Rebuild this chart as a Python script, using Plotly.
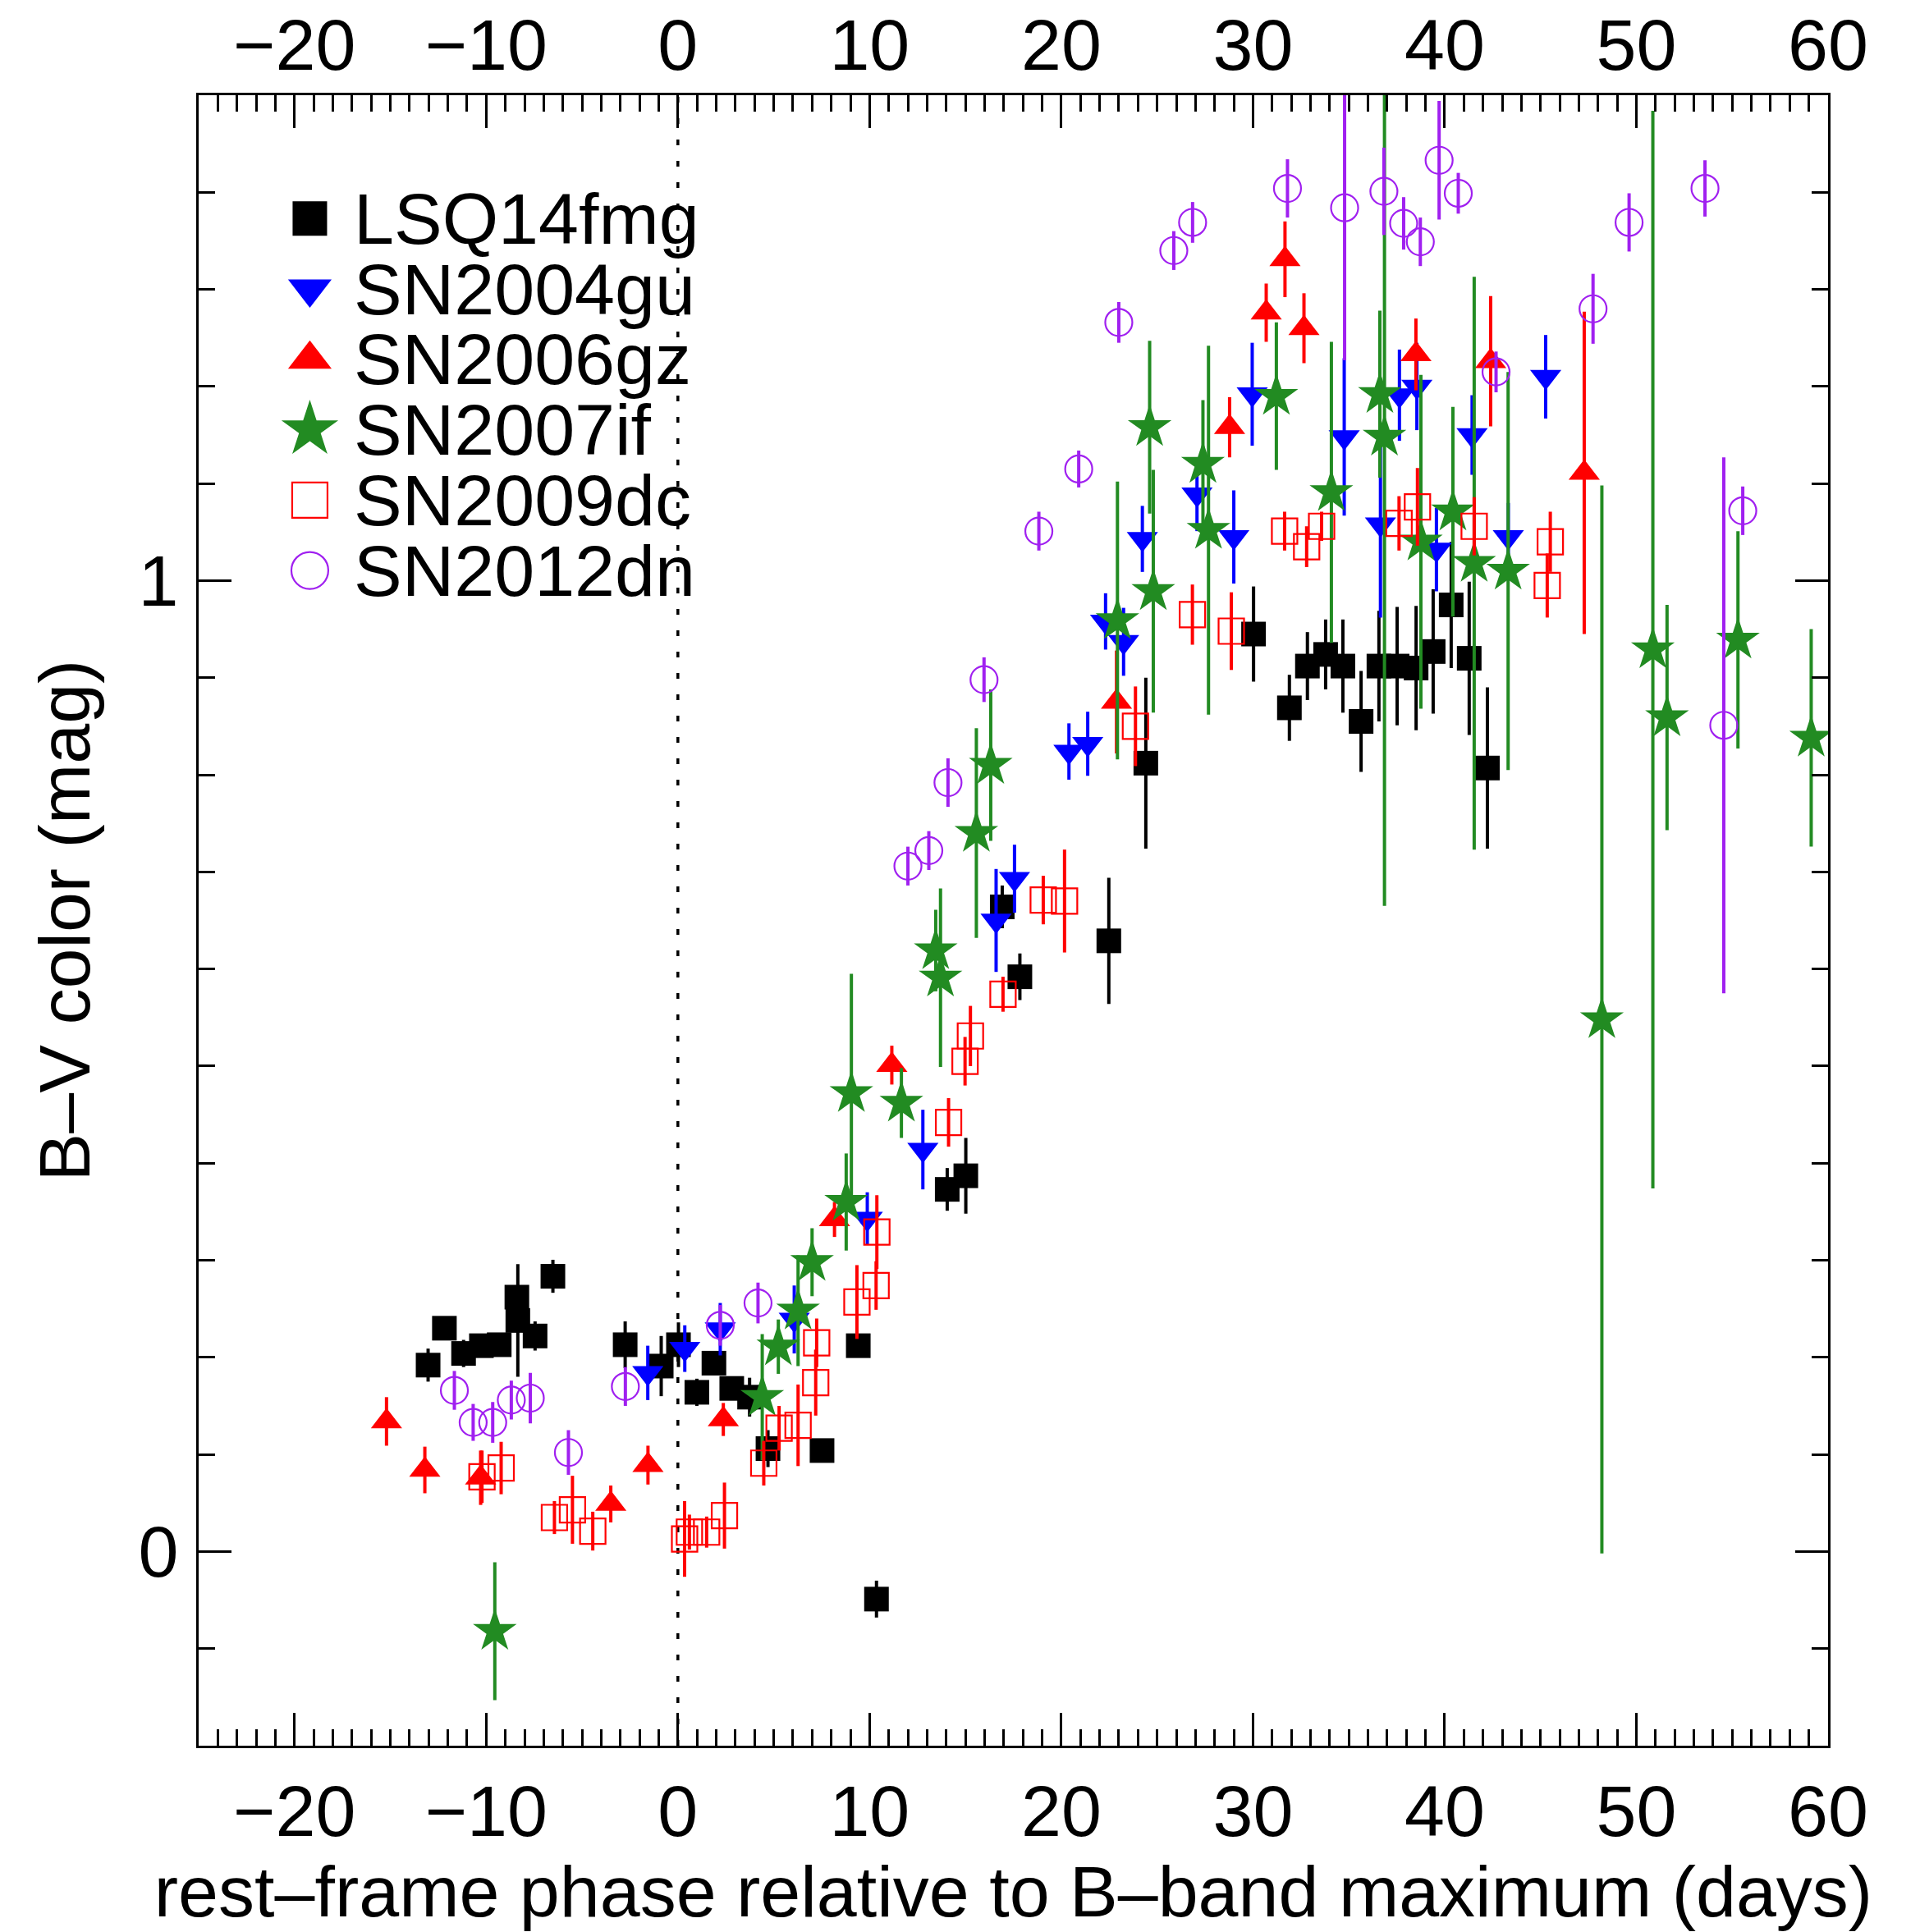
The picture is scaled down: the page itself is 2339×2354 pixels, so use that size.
import plotly.graph_objects as go

# ---------------- data (rest-frame phase [d], B-V [mag], error [mag]) ----------------
lsq_phase = [-13.03, -12.18, -11.18, -10.25, -9.32, -8.4, -8.35, -7.45, -6.52, -2.75, -0.87, 0.03,
             0.99, 1.88, 2.81, 3.74, 4.70, 7.52, 9.41, 10.36, 14.05, 15.02, 16.92, 17.84, 22.48,
             24.41, 30.03, 31.9, 32.84, 33.79, 34.69, 35.64, 36.57, 37.52, 38.51, 39.4, 40.34,
             41.28, 42.23]
lsq_bv = [0.192, 0.230, 0.204, 0.212, 0.213, 0.262, 0.238, 0.222, 0.2835, 0.213, 0.191, 0.213,
          0.164, 0.194, 0.168, 0.159, 0.106, 0.104, 0.212, -0.049, 0.373, 0.387, 0.664, 0.592, 0.629,
          0.812, 0.945, 0.869, 0.912, 0.924, 0.912, 0.855, 0.912, 0.912, 0.910, 0.927, 0.975,
          0.920, 0.807]
lsq_err = [0.017, 0.010, 0.014, 0.010, 0.010, 0.012, 0.058, 0.015, 0.017, 0.024, 0.031, 0.023,
           0.014, 0.012, 0.010, 0.020, 0.019, 0.010, 0.010, 0.019, 0.022, 0.039, 0.022, 0.024, 0.065,
           0.088, 0.049, 0.034, 0.035, 0.036, 0.048, 0.052, 0.057, 0.061, 0.064, 0.064, 0.065,
           0.079, 0.083]

gu_phase = [-1.57, 0.36, 2.21, 6.07, 9.88, 12.78, 16.6, 17.56, 20.4, 21.38, 22.31, 23.25, 24.23,
            27.08, 29.0, 29.96, 34.76, 36.65, 37.64, 38.55, 39.57, 41.43, 43.32, 45.27]
gu_bv = [0.184, 0.209, 0.229, 0.239, 0.343, 0.414, 0.650, 0.693, 0.824, 0.832, 0.958, 0.937, 1.043,
         1.089, 1.045, 1.192, 1.148, 1.058, 1.191, 1.200, 1.032, 1.150, 1.045, 1.210]
gu_err = [0.028, 0.024, 0.027, 0.035, 0.027, 0.041, 0.053, 0.035, 0.029, 0.033, 0.029, 0.035, 0.034,
          0.038, 0.048, 0.053, 0.081, 0.096, 0.047, 0.045, 0.043, 0.041, 0.035, 0.043]

gz_phase = [-15.2, -13.2, -10.29, -3.5, -1.56, 2.37, 8.17, 11.16, 22.88, 28.78, 30.69, 31.67,
            32.66, 38.5, 42.4, 47.28]
gz_bv = [0.134, 0.084, 0.076, 0.049, 0.089, 0.136, 0.342, 0.501, 0.875, 1.158, 1.276, 1.331,
         1.260, 1.233, 1.226, 1.111]
gz_err = [0.025, 0.024, 0.028, 0.019, 0.020, 0.017, 0.018, 0.020, 0.053, 0.031, 0.030, 0.039,
          0.036, 0.037, 0.067, 0.166]

if_phase = [-9.55, 4.40, 5.24, 6.27, 7.00, 8.78, 9.05, 11.66, 13.45, 13.70, 15.57, 16.32, 22.93,
            24.61, 24.80, 27.39, 27.68, 31.22, 34.09, 36.62, 36.86, 38.76, 40.43, 41.54, 43.31,
            48.20, 50.86, 51.60, 55.30, 59.12]
if_bv = [-0.082, 0.159, 0.211, 0.248, 0.298, 0.360, 0.472, 0.462, 0.619, 0.591, 0.740, 0.810, 0.959,
         1.158, 0.989, 1.120, 1.052, 1.190, 1.091, 1.192, 1.148, 1.040, 1.071, 1.018, 1.010,
         0.548, 0.929, 0.859, 0.939, 0.838]
if_err = [0.071, 0.065, 0.028, 0.057, 0.035, 0.050, 0.123, 0.036, 0.042, 0.092, 0.108, 0.078, 0.143,
          0.089, 0.125, 0.066, 0.190, 0.076, 0.155, 0.086, 0.483, 0.172, 0.108, 0.295, 0.205,
          0.550, 0.555, 0.116, 0.112, 0.112]

dc_phase = [-10.22, -9.22, -6.44, -5.50, -4.44, 0.35, 0.60, 1.50, 2.43, 4.48, 5.28, 6.27, 7.19,
            7.24, 9.34, 10.34, 10.38, 14.12, 14.98, 15.26, 16.96, 19.06, 20.17, 23.87, 26.84,
            28.87, 31.65, 32.80, 33.58, 37.62, 38.58, 41.54, 45.35, 45.51]
dc_bv = [0.077, 0.086, 0.035, 0.043, 0.021, 0.013, 0.020, 0.020, 0.037, 0.091, 0.127, 0.130, 0.174,
         0.215, 0.257, 0.274, 0.329, 0.442, 0.505, 0.531, 0.574, 0.671, 0.670, 0.850, 0.965,
         0.948, 1.051, 1.035, 1.056, 1.059, 1.076, 1.056, 0.995, 1.040]
dc_err = [0.027, 0.027, 0.017, 0.035, 0.020, 0.039, 0.018, 0.016, 0.034, 0.023, 0.023, 0.042, 0.034,
          0.025, 0.038, 0.025, 0.038, 0.025, 0.025, 0.031, 0.018, 0.025, 0.053, 0.041, 0.031,
          0.040, 0.020, 0.021, 0.015, 0.028, 0.040, 0.030, 0.033, 0.031]

dn_phase = [-11.66, -10.68, -9.66, -8.69, -7.70, -5.71, -2.74, 2.21, 4.18, 12.0, 13.09, 14.09,
            15.97, 18.83, 20.91, 23.0, 25.87, 26.85, 31.8, 34.78, 36.83, 37.86, 38.73, 39.71,
            40.71, 42.68, 47.74, 49.62, 53.58, 54.56, 55.55]
dn_bv = [0.166, 0.133, 0.133, 0.156, 0.158, 0.102, 0.170, 0.233, 0.256, 0.706, 0.722, 0.792,
         0.898, 1.051, 1.115, 1.266, 1.340, 1.369, 1.404, 1.384, 1.401, 1.368, 1.349, 1.433,
         1.399, 1.215, 1.280, 1.369, 1.404, 0.851, 1.072]
dn_err = [0.020, 0.019, 0.021, 0.020, 0.026, 0.023, 0.020, 0.021, 0.021, 0.020, 0.020, 0.025,
          0.023, 0.020, 0.019, 0.021, 0.020, 0.021, 0.030, 0.157, 0.045, 0.027, 0.025, 0.061,
          0.021, 0.021, 0.036, 0.030, 0.029, 0.276, 0.025]

names = ["LSQ14fmg", "SN2004gu", "SN2006gz", "SN2007if", "SN2009dc", "SN2012dn"]

# ---------------- styles ----------------
FONT = "Liberation Sans, Arial, Helvetica, sans-serif"
FS = 88
styles = [
    dict(symbol="square", size=30, lsize=42, color="black", lw=0),
    dict(symbol="triangle-down", size=33, lsize=46, color="#0000FF", lw=0),
    dict(symbol="triangle-up", size=33, lsize=46, color="#FF0000", lw=0),
    dict(symbol="star", size=40, lsize=52, color="#228B22", lw=0),
    dict(symbol="square-open", size=31, lsize=43, color="#FF0000", lw=2.2),
    dict(symbol="circle-open", size=33, lsize=45, color="#A020F0", lw=2.2),
]
series = [(lsq_phase, lsq_bv, lsq_err), (gu_phase, gu_bv, gu_err), (gz_phase, gz_bv, gz_err),
          (if_phase, if_bv, if_err), (dc_phase, dc_bv, dc_err), (dn_phase, dn_bv, dn_err)]

fig = go.Figure()
for nm, (px, py, pe), st in zip(names, series, styles):
    fig.add_trace(go.Scatter(
        x=px, y=py, mode="markers", name=nm, showlegend=False,
        marker=dict(symbol=st["symbol"], size=st["size"], color=st["color"],
                    line=dict(width=st["lw"], color=st["color"])),
        error_y=dict(type="data", array=pe, visible=True, thickness=4, width=0, color=st["color"]),
        cliponaxis=True,
    ))

# ---------------- legend (drawn inside the plot, top-left) ----------------
LEG_X_MARK, LEG_X_TEXT, LEG_Y_TOP, LEG_DY = -19.2, -17.0, 1.373, 0.0725
for i, (nm, st) in enumerate(zip(names, styles)):
    yy = LEG_Y_TOP - i * LEG_DY
    fig.add_trace(go.Scatter(
        x=[LEG_X_MARK], y=[yy], mode="markers", showlegend=False, hoverinfo="skip",
        marker=dict(symbol=st["symbol"], size=st["lsize"], color=st["color"],
                    line=dict(width=st["lw"], color=st["color"]))))
    fig.add_annotation(x=LEG_X_TEXT, y=yy, xref="x", yref="y", text=nm, showarrow=False,
                       xanchor="left", yanchor="middle", font=dict(family=FONT, size=FS, color="black"))

# dummy trace to activate the mirrored top / right axes
fig.add_trace(go.Scatter(x=[None], y=[None], xaxis="x2", yaxis="y2", showlegend=False, hoverinfo="skip"))

# vertical dotted line at phase 0
fig.add_shape(type="line", x0=0, x1=0, y0=0, y1=1, xref="x", yref="paper",
              line=dict(color="black", width=3.5, dash="7px,19px"), layer="below")

XR = [-25, 60]
YR = [-0.2, 1.5]
common = dict(showgrid=False, zeroline=False, showline=True, linewidth=3, linecolor="black",
              ticks="inside", ticklen=40, tickwidth=3, tickcolor="black", automargin=False,
              tickfont=dict(family=FONT, size=FS, color="black"))

# the page body adds an 8 px offset, so the figure is 8 px smaller than the window
fig.update_layout(
    width=2331, height=2346,
    margin=dict(l=234, r=112, t=108, b=227, autoexpand=False),
    paper_bgcolor="white", plot_bgcolor="white",
    font=dict(family=FONT, size=FS, color="black"),
    xaxis=dict(range=XR, dtick=10, tick0=0, **common,
               minor=dict(ticks="inside", ticklen=20, dtick=1, tickwidth=3, tickcolor="black"),
               ticklabelstandoff=1,
               title=dict(text="rest–frame phase relative to B–band maximum (days)",
                          font=dict(family=FONT, size=FS), standoff=26)),
    xaxis2=dict(range=XR, dtick=10, tick0=0, overlaying="x", side="top", anchor="y2", **common,
                minor=dict(ticks="inside", ticklen=20, dtick=1, tickwidth=3, tickcolor="black"),
                ticklabelstandoff=-7),
    yaxis=dict(range=YR, dtick=1, tick0=0, **common,
               minor=dict(ticks="inside", ticklen=20, dtick=0.1, tickwidth=3, tickcolor="black"),
               ticklabelstandoff=4,
               title=dict(text="B–V color (mag)", font=dict(family=FONT, size=FS), standoff=30)),
    yaxis2=dict(range=YR, dtick=1, tick0=0, overlaying="y", side="right", anchor="x2", **common,
                minor=dict(ticks="inside", ticklen=20, dtick=0.1, tickwidth=3, tickcolor="black"),
                showticklabels=False),
)

fig.write_html("out.html")
